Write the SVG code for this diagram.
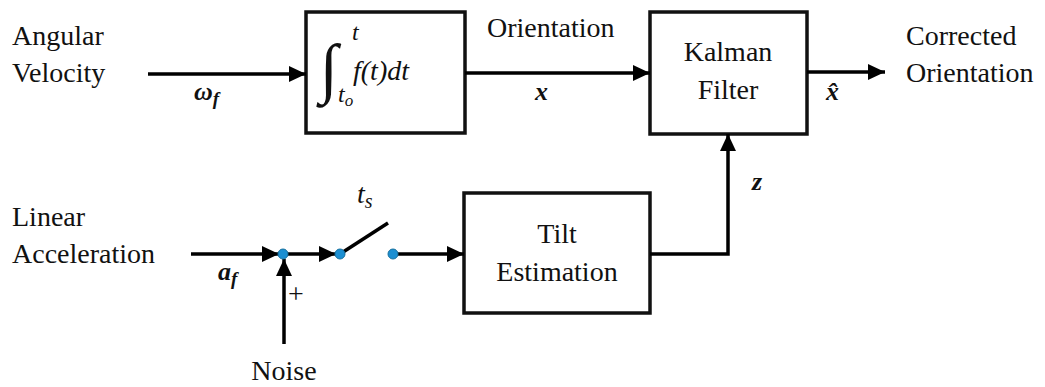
<svg xmlns="http://www.w3.org/2000/svg" width="1045" height="387" viewBox="0 0 1045 387">
<defs>
<marker id="ah" markerUnits="userSpaceOnUse" markerWidth="18" markerHeight="18" refX="17" refY="8" orient="auto">
<path d="M0,0 L17,8 L0,16 z" fill="#000"/>
</marker>
<style>
text{font-family:'Liberation Serif','Times New Roman',Tinos,'Noto Serif','DejaVu Serif',FreeSerif,Times,serif}
.lbl{font-size:28px;fill:#111}
.m{font-style:italic;font-size:28px;fill:#111}
.mb{font-style:italic;font-weight:bold;font-size:26px;fill:#111}
.box{fill:#fff;stroke:#111;stroke-width:3.5}
.ln{fill:none;stroke:#000;stroke-width:3.5}
.dot{fill:#1c8fd2;stroke:#17719f;stroke-width:1}
</style>
</defs>
<g id="labels">
<text class="lbl" x="12" y="45">Angular</text>
<text class="lbl" x="12" y="82">Velocity</text>
<text class="lbl" x="12" y="226">Linear</text>
<text class="lbl" x="12" y="263">Acceleration</text>
<text class="lbl" x="906" y="45">Corrected</text>
<text class="lbl" x="906" y="82">Orientation</text>
<text class="lbl" x="487" y="37">Orientation</text>
<text class="lbl" x="284" y="380" text-anchor="middle">Noise</text>
<text class="mb" x="194" y="100">ω<tspan font-size="19" dy="5">f</tspan></text>
<text class="mb" x="535" y="100">x</text>
<text class="mb" x="826" y="100">x̂</text>
<text class="mb" x="752" y="190">z</text>
<text class="mb" x="218" y="280">a<tspan font-size="19" dy="5">f</tspan></text>
<text class="m" x="357" y="203">t<tspan font-size="20" dy="5">s</tspan></text>
<text class="lbl" x="288" y="303" font-size="26">+</text>
</g>
<g id="integrator">
<rect class="box" x="306" y="12" width="159" height="121"/>
<text class="m"><tspan x="320" y="90" font-size="66">∫</tspan><tspan x="352" y="40" font-size="24">t</tspan><tspan x="338" y="102" font-size="24">t</tspan><tspan font-size="17" dy="4">o</tspan><tspan x="353" y="80">f(t)dt</tspan></text>
</g>
<g id="kalman">
<rect class="box" x="650" y="12" width="157" height="122"/>
<text class="lbl" x="728" y="61" text-anchor="middle">Kalman</text>
<text class="lbl" x="728" y="99" text-anchor="middle">Filter</text>
</g>
<g id="tilt">
<rect class="box" x="464" y="193" width="186" height="120"/>
<text class="lbl" x="557" y="243" text-anchor="middle">Tilt</text>
<text class="lbl" x="557" y="281" text-anchor="middle">Estimation</text>
</g>
<g id="connectors">
<line class="ln" x1="148" y1="74" x2="306" y2="74" marker-end="url(#ah)"/>
<line class="ln" x1="465" y1="73" x2="650" y2="73" marker-end="url(#ah)"/>
<line class="ln" x1="807" y1="72" x2="885" y2="72" marker-end="url(#ah)"/>
<path class="ln" d="M650,254 H728 V134" marker-end="url(#ah)"/>
<line class="ln" x1="191" y1="254" x2="279" y2="254" marker-end="url(#ah)"/>
<line class="ln" x1="283" y1="254" x2="336" y2="254" marker-end="url(#ah)"/>
<line class="ln" x1="340" y1="254" x2="388" y2="223"/>
<line class="ln" x1="393" y1="254" x2="464" y2="254" marker-end="url(#ah)"/>
<line class="ln" x1="284" y1="344" x2="284" y2="259" marker-end="url(#ah)"/>
</g>
<g id="junctions">
<circle class="dot" cx="283" cy="254" r="5"/>
<circle class="dot" cx="340" cy="254" r="5"/>
<circle class="dot" cx="393" cy="254" r="5"/>
</g>
</svg>
